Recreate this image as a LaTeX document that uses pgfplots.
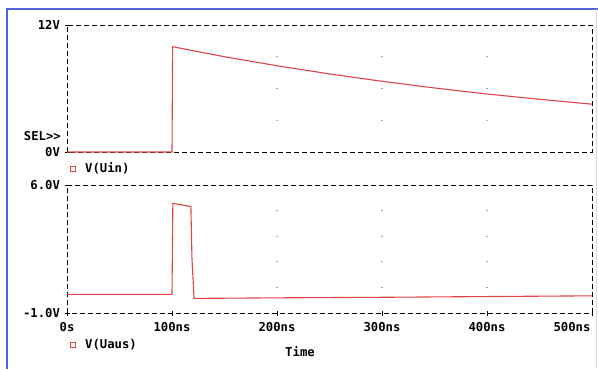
\documentclass[border=0pt]{standalone}
\usepackage{pgfplots}
\pgfplotsset{compat=1.18}
\usepackage{fontspec}
\setmonofont{DejaVu Sans Mono}
\definecolor{trace}{RGB}{222,70,70}
\definecolor{frameblue}{RGB}{85,100,220}
\newcommand{\lbl}{\fontsize{12.3}{14}\selectfont\ttfamily\bfseries}
\begin{document}
\begin{tikzpicture}[x=1bp,y=1bp]
\useasboundingbox[fill=white] (0,0) rectangle (598,-369);
\draw[frameblue, line width=1.2bp] (7,-369) -- (7,-9) -- (598,-9);
\draw[black!15, line width=0.8bp] (596,-9) -- (596,-369);
\pgfplotsset{
  every axis/.append style={
    scale only axis, width=525bp, xmin=0, xmax=500,
    axis line style={black, line width=0.8bp, dash pattern=on 5bp off 3bp},
    tick style={black, line width=0.8bp, solid}, major tick length=5bp, tick align=center,
    ytick pos=left, xtick pos=bottom,
    ticklabel style={font=\lbl},
    yticklabel style={xshift=-1bp},
    xticklabel style={yshift=-3bp},
    legend style={draw=none, fill=none, font=\lbl, inner sep=0pt, legend cell align=left},
    legend image code/.code={\draw[trace, line width=0.8bp] (3bp,-2.5bp) rectangle (8bp,2.5bp);
      \path[draw=none, fill=none] (0,0) -- (16bp,0);},
    clip=false,
  }
}
% top axis
\begin{axis}[at={(67bp,-152bp)}, anchor=south west, height=127bp,
  ymin=0, ymax=12, ytick={0,12}, yticklabels={0V,12V}, xtick=\empty,
  legend style={at={(axis description cs:0,-0.13)}, anchor=west}]
\addplot[only marks, mark=*, mark size=0.35bp, black!60, forget plot] coordinates {
 (200,3) (200,6) (200,9) (300,3) (300,6) (300,9) (400,3) (400,6) (400,9)};
\addplot[trace, line width=1.1bp] coordinates {
 (0,0) (100,0) (100.6,9.95) (150,9.0) (200,8.15) (250,7.38) (300,6.68)
 (350,6.05) (400,5.48) (450,4.98) (500,4.52)};
\addlegendentry{V(Uin)}
\end{axis}
% bottom axis
\begin{axis}[at={(67bp,-313bp)}, anchor=south west, height=128bp,
  ymin=-1, ymax=6, ytick={-1,6}, yticklabels={-1.0V,6.0V},
  xtick={0,100,200,300,400}, xticklabels={0s,100ns,200ns,300ns,400ns},
  extra x ticks={500}, extra x tick labels={500ns},
  extra x tick style={xticklabel style={anchor=north east, xshift=2bp}},
  legend style={at={(axis description cs:0,-0.25)}, anchor=west}]
\addplot[only marks, mark=*, mark size=0.35bp, black!60, forget plot] coordinates {
 (200,0.4) (200,1.8) (200,3.2) (200,4.6) (300,0.4) (300,1.8) (300,3.2) (300,4.6)
 (400,0.4) (400,1.8) (400,3.2) (400,4.6)};
\addplot[trace, line width=1.1bp] coordinates {
 (0,0.02) (100,0.02) (100.8,5.0) (118,4.82) (119,2.0) (121,-0.2) (150,-0.19)
 (200,-0.17) (300,-0.14) (400,-0.1) (500,-0.06)};
\addlegendentry{V(Uaus)}
\end{axis}
\node[anchor=east, font=\lbl, inner sep=0pt] at (61,-136) {SEL>>};
\node[font=\lbl, inner sep=0pt] at (300,-352) {Time};
\end{tikzpicture}
\end{document}
